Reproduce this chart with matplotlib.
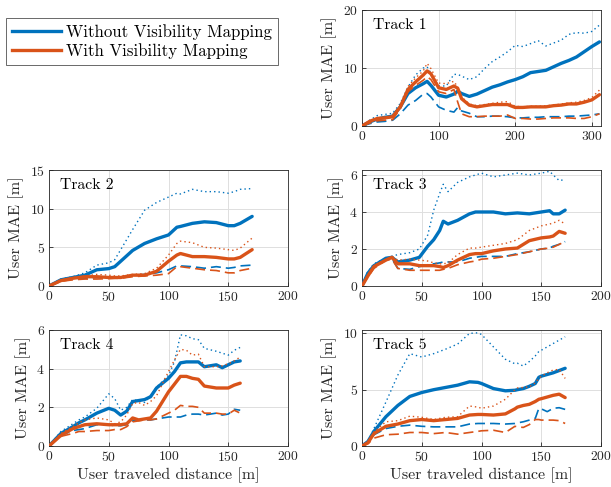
import numpy as np
import matplotlib
matplotlib.use('Agg')
import matplotlib.pyplot as plt
from matplotlib.lines import Line2D

plt.rcParams['font.family'] = 'cmr10'
plt.rcParams['mathtext.fontset'] = 'cm'
plt.rcParams['axes.formatter.use_mathtext'] = True

BLUE = '#0072BD'
ORANGE = '#D95319'

legend_labels = ['Without Visibility Mapping', 'With Visibility Mapping']
track_names = ['Track 1', 'Track 2', 'Track 3', 'Track 4', 'Track 5']

# Track 1
t1_x = [0, 10, 20, 30, 40, 50, 60, 70, 80, 85, 90, 100, 110, 120, 125, 130, 140, 150, 160, 170,
        180, 190, 200, 210, 220, 230, 240, 250, 260, 270, 280, 290, 300, 310]
t1_wo_solid = [0, 0.7, 1.2, 1.5, 1.7, 3.3, 5.6, 6.6, 7.3, 7.7, 7.0, 5.3, 5.0, 5.5, 6.0, 5.6, 5.1, 5.5, 6.1, 6.7,
               7.1, 7.6, 8.0, 8.5, 9.2, 9.4, 9.6, 10.2, 10.8, 11.3, 11.9, 12.8, 13.7, 14.5]
t1_wo_dot = [0, 1.0, 1.8, 2.0, 2.2, 3.9, 6.7, 8.8, 10.0, 10.2, 9.1, 6.9, 6.9, 8.9, 8.9, 8.6, 8.0, 8.5, 9.9, 11.1,
             11.9, 12.8, 13.9, 13.7, 14.2, 14.7, 13.8, 14.3, 14.8, 15.8, 16.1, 16.0, 16.3, 17.4]
t1_wo_dash = [0, 0.4, 0.7, 0.8, 1.0, 2.1, 3.6, 4.4, 5.5, 5.6, 5.0, 3.3, 2.7, 2.4, 3.2, 2.6, 2.2, 1.6, 1.6, 1.7,
              1.7, 1.6, 1.4, 1.4, 1.5, 1.5, 1.6, 1.6, 1.6, 1.7, 1.7, 1.8, 1.9, 2.1]
t1_w_solid = [0, 0.8, 1.3, 1.4, 1.6, 3.3, 6.3, 7.6, 8.8, 9.5, 9.0, 6.6, 6.3, 6.9, 6.5, 4.7, 3.6, 3.3, 3.5, 3.7,
              3.7, 3.7, 3.2, 3.2, 3.3, 3.3, 3.3, 3.5, 3.6, 3.8, 3.8, 4.1, 4.5, 5.4]
t1_w_dot = [0, 0.9, 1.4, 1.5, 1.7, 3.6, 6.8, 8.3, 9.5, 10.8, 9.9, 7.4, 7.3, 7.7, 6.7, 5.0, 3.8, 3.5, 3.7, 3.9,
            4.1, 4.2, 3.4, 3.3, 3.4, 3.4, 3.5, 3.6, 3.8, 4.0, 4.1, 4.4, 4.9, 6.2]
t1_w_dash = [0, 0.5, 0.9, 1.0, 1.1, 3.0, 5.9, 7.0, 7.9, 8.5, 8.0, 5.9, 5.6, 6.3, 4.1, 2.1, 1.6, 1.6, 1.7, 1.7,
             1.7, 1.9, 1.3, 1.3, 1.2, 1.2, 1.3, 1.4, 1.4, 1.4, 1.3, 1.3, 1.6, 2.1]

# Track 2
t2_x = [0, 10, 20, 30, 40, 50, 55, 60, 70, 80, 90, 100, 107, 110, 120, 130, 140, 150, 155, 160, 170]
t2_wo_solid = [0, 0.8, 1.1, 1.4, 2.1, 2.25, 2.5, 3.2, 4.6, 5.5, 6.1, 6.6, 7.6, 7.7, 8.1, 8.3, 8.2, 7.8, 7.8, 8.1, 9.0]
t2_wo_dot = [0, 0.9, 1.2, 1.7, 2.7, 3.0, 3.4, 4.7, 7.3, 9.8, 10.8, 11.5, 12.0, 11.9, 12.5, 12.2, 12.2, 12.0, 12.2, 12.5, 12.6]
t2_wo_dash = [0, 0.7, 0.9, 1.0, 1.1, 1.1, 1.1, 1.1, 1.4, 1.5, 1.7, 2.1, 2.6, 2.6, 2.5, 2.3, 2.5, 2.3, 2.4, 2.6, 2.7]
t2_w_solid = [0, 0.7, 1.0, 1.2, 1.2, 1.1, 1.1, 1.1, 1.4, 1.4, 1.9, 3.2, 4.0, 4.2, 3.8, 3.8, 3.7, 3.5, 3.5, 3.7, 4.7]
t2_w_dot = [0, 0.8, 1.1, 1.3, 1.5, 1.4, 1.3, 1.3, 1.5, 1.6, 2.3, 4.0, 5.5, 5.8, 5.6, 5.0, 4.9, 4.7, 4.6, 4.9, 6.2]
t2_w_dash = [0, 0.6, 0.8, 0.9, 0.9, 0.95, 1.0, 1.0, 1.2, 1.3, 1.4, 1.6, 2.5, 2.5, 2.3, 2.1, 2.0, 1.7, 1.7, 2.0, 2.3]

# Track 3
t3_x = [0, 5, 10, 20, 25, 30, 40, 48, 55, 60, 65, 68, 72, 80, 90, 95, 100, 110, 120, 130, 140, 150, 157, 160, 165, 170]
t3_wo_solid = [0, 0.7, 1.1, 1.5, 1.55, 1.3, 1.4, 1.55, 2.15, 2.5, 3.0, 3.5, 3.35, 3.55, 3.9, 4.0, 4.0, 4.0, 3.9,
               3.95, 3.9, 4.0, 4.07, 3.9, 3.9, 4.1]
t3_wo_dot = [0, 0.8, 1.2, 1.5, 1.6, 1.7, 1.8, 2.0, 2.75, 4.1, 5.0, 5.5, 5.1, 5.6, 5.9, 6.0, 6.1, 5.9, 6.0, 6.1,
             6.0, 6.1, 6.2, 6.0, 5.7, 5.75]
t3_wo_dash = [0, 0.6, 1.05, 1.4, 1.5, 0.95, 0.9, 1.05, 1.15, 1.2, 1.25, 1.3, 1.3, 1.3, 1.5, 1.55, 1.6, 1.6, 1.6,
              1.75, 1.85, 2.0, 2.05, 2.15, 2.25, 2.4]
t3_w_solid = [0, 0.55, 1.05, 1.4, 1.55, 1.2, 1.2, 1.1, 1.1, 1.1, 1.05, 1.0, 1.1, 1.4, 1.7, 1.75, 1.75, 1.9, 2.0,
              2.05, 2.45, 2.6, 2.65, 2.7, 2.95, 2.85]
t3_w_dot = [0, 0.6, 1.1, 1.45, 1.6, 1.4, 1.45, 1.4, 1.35, 1.25, 1.2, 1.2, 1.25, 1.7, 2.05, 2.05, 2.1, 2.2, 2.3,
            2.5, 3.0, 3.25, 3.35, 3.4, 3.55, 3.35]
t3_w_dash = [0, 0.5, 0.95, 1.4, 1.45, 0.95, 0.85, 0.85, 0.85, 0.85, 0.85, 0.9, 0.95, 1.15, 1.3, 1.35, 1.45, 1.5,
             1.6, 1.7, 1.85, 2.0, 2.05, 2.1, 2.25, 2.4]

# Track 4
t4_x = [0, 10, 20, 25, 30, 40, 50, 55, 60, 65, 70, 75, 80, 85, 90, 100, 105, 110, 115, 120, 125, 130, 140, 145,
        150, 155, 160]
t4_wo_solid = [0, 0.65, 1.0, 1.2, 1.35, 1.7, 1.95, 1.85, 1.6, 1.8, 2.3, 2.35, 2.4, 2.55, 3.0, 3.5, 3.85, 4.3,
               4.35, 4.35, 4.35, 4.1, 4.2, 4.05, 4.2, 4.35, 4.4]
t4_wo_dot = [0, 0.75, 1.15, 1.35, 1.5, 1.95, 2.7, 2.45, 1.85, 2.0, 2.4, 2.35, 2.25, 2.6, 3.05, 3.65, 4.35, 5.75,
             5.7, 5.55, 5.5, 5.05, 4.9, 4.8, 4.7, 4.95, 5.1]
t4_wo_dash = [0, 0.55, 0.8, 0.85, 0.9, 1.1, 1.1, 1.05, 1.05, 1.1, 1.3, 1.35, 1.35, 1.35, 1.4, 1.5, 1.5, 1.5, 1.6,
              1.65, 1.65, 1.6, 1.7, 1.6, 1.65, 1.9, 1.85]
t4_w_solid = [0, 0.55, 0.9, 1.0, 1.1, 1.15, 1.1, 1.1, 1.1, 1.15, 1.45, 1.35, 1.4, 1.45, 1.8, 2.8, 3.2, 3.6, 3.6,
              3.5, 3.45, 3.1, 3.0, 3.0, 3.0, 3.15, 3.25]
t4_w_dot = [0, 0.65, 1.0, 1.2, 1.35, 1.45, 1.35, 1.15, 1.25, 1.6, 2.2, 2.25, 2.1, 2.3, 2.6, 3.85, 4.45, 5.0, 4.95,
            4.7, 4.75, 4.1, 4.1, 4.15, 4.25, 4.4, 4.6]
t4_w_dash = [0, 0.5, 0.65, 0.75, 0.75, 0.8, 0.8, 0.85, 0.85, 1.0, 1.25, 1.3, 1.35, 1.35, 1.4, 1.7, 1.85, 2.1, 2.05,
             2.05, 2.0, 1.7, 1.7, 1.65, 1.65, 1.85, 1.7]

# Track 5
t5_x = [0, 5, 10, 20, 30, 40, 50, 60, 70, 80, 90, 97, 100, 110, 120, 128, 130, 135, 140, 145, 148, 150, 155, 160,
        165, 170]
t5_wo_solid = [0, 0.4, 1.3, 2.6, 3.6, 4.4, 4.75, 5.0, 5.2, 5.4, 5.7, 5.65, 5.55, 5.1, 4.9, 4.95, 5.0, 5.1, 5.3,
               5.55, 6.1, 6.2, 6.35, 6.5, 6.7, 6.9]
t5_wo_dot = [0, 0.4, 1.55, 3.9, 6.3, 8.2, 7.9, 8.2, 8.6, 9.05, 10.0, 10.05, 9.9, 8.8, 7.7, 7.3, 7.35, 7.1, 7.5,
             8.0, 8.4, 8.5, 8.8, 9.1, 9.4, 9.7]
t5_wo_dash = [0, 0.3, 1.0, 1.55, 1.75, 1.85, 1.75, 1.7, 1.7, 1.7, 1.95, 2.0, 2.0, 2.0, 1.95, 2.0, 2.05, 2.15, 2.3,
              2.45, 3.35, 3.3, 3.05, 3.35, 3.4, 3.25]
t5_w_solid = [0, 0.3, 1.1, 1.75, 1.95, 2.25, 2.35, 2.25, 2.35, 2.45, 2.75, 2.8, 2.8, 2.75, 2.85, 3.3, 3.45, 3.6,
              3.7, 3.95, 4.15, 4.2, 4.35, 4.5, 4.6, 4.3]
t5_w_dot = [0, 0.4, 1.25, 2.15, 2.25, 2.65, 2.55, 2.35, 2.55, 2.6, 3.55, 3.45, 3.35, 3.55, 4.15, 5.0, 5.15, 5.2,
            5.25, 5.6, 6.0, 6.2, 6.5, 6.75, 6.8, 6.0]
t5_w_dash = [0, 0.2, 0.7, 1.0, 1.05, 1.2, 1.2, 1.1, 1.2, 1.05, 1.2, 1.3, 1.35, 1.4, 1.2, 1.75, 1.7, 1.65, 1.9,
             2.35, 2.35, 2.3, 2.3, 2.3, 2.25, 2.0]

x_limits = [312, 200, 200, 200, 200]
x_ticks = [[0, 100, 200, 300], [0, 50, 100, 150, 200], [0, 50, 100, 150, 200],
           [0, 50, 100, 150, 200], [0, 50, 100, 150, 200]]
y_limits = [20, 15, 6.27, 6, 10.3]
y_ticks = [[0, 10, 20], [0, 5, 10, 15], [0, 2, 4, 6], [0, 2, 4, 6], [0, 5, 10]]


def draw_track(ax, x, series, name, xmax, xt, ymax, yt, xlabel):
    '''
    Draws the six error curves of one track
    Arguments:
        ax, axes to draw on
        x, travelled distance
        series, [wo_solid, wo_dot, wo_dash, w_solid, w_dot, w_dash]
    '''
    colors = [BLUE, BLUE, BLUE, ORANGE, ORANGE, ORANGE]
    for y, c, k in zip(series, colors, range(6)):
        if k % 3 == 0:
            ax.plot(x, y, color=c, lw=2.4, solid_capstyle='round', zorder=3)
        elif k % 3 == 1:
            ax.plot(x, y, color=c, lw=1.0, linestyle=(0, (1, 2.2)), zorder=3)
        else:
            ax.plot(x, y, color=c, lw=1.2, linestyle=(0, (6, 3)), zorder=3)
    ax.set_xlim(0, xmax)
    ax.set_ylim(0, ymax)
    ax.set_xticks(xt)
    ax.set_yticks(yt)
    ax.grid(True, color='#dedede', lw=0.7)
    ax.set_axisbelow(True)
    for s in ax.spines.values():
        s.set_color('#262626')
        s.set_linewidth(0.6)
    ax.tick_params(direction='in', length=3, width=0.6, labelsize=9.8, colors='#262626', pad=3)
    ax.set_ylabel('User MAE [m]', fontsize=11.6, color='#262626', labelpad=4)
    if xlabel:
        ax.set_xlabel('User traveled distance [m]', fontsize=11.5, color='#262626', labelpad=2)
    ax.text(0.045, 0.87, name, transform=ax.transAxes, fontsize=11.3, va='center', ha='left', color='#000000')


fig = plt.figure(figsize=(6.11, 4.87), dpi=100)
W, H = 611.0, 487.0
boxes = [(362, 10), (49, 170), (362, 170), (49, 330), (362, 330)]
tracks = [
    (t1_x, [t1_wo_solid, t1_wo_dot, t1_wo_dash, t1_w_solid, t1_w_dot, t1_w_dash]),
    (t2_x, [t2_wo_solid, t2_wo_dot, t2_wo_dash, t2_w_solid, t2_w_dot, t2_w_dash]),
    (t3_x, [t3_wo_solid, t3_wo_dot, t3_wo_dash, t3_w_solid, t3_w_dot, t3_w_dash]),
    (t4_x, [t4_wo_solid, t4_wo_dot, t4_wo_dash, t4_w_solid, t4_w_dot, t4_w_dash]),
    (t5_x, [t5_wo_solid, t5_wo_dot, t5_wo_dash, t5_w_solid, t5_w_dot, t5_w_dash]),
]
for i in range(5):
    left, top = boxes[i]
    ax = fig.add_axes([left / W, 1 - (top + 116) / H, 239 / W, 116 / H])
    draw_track(ax, tracks[i][0], tracks[i][1], track_names[i], x_limits[i], x_ticks[i],
               y_limits[i], y_ticks[i], i >= 3)

handles = [Line2D([], [], color=BLUE, lw=2.4), Line2D([], [], color=ORANGE, lw=2.4)]
leg = fig.legend(handles, legend_labels, loc='upper left', bbox_to_anchor=(6 / W, 1 - 18 / H),
                 fontsize=12.1, frameon=True, fancybox=False, borderpad=0.35, handlelength=2.9,
                 handletextpad=0.3, labelspacing=0.2, borderaxespad=0)
leg.get_frame().set_edgecolor('#262626')
leg.get_frame().set_linewidth(0.6)

fig.savefig('out.png', dpi=100)
